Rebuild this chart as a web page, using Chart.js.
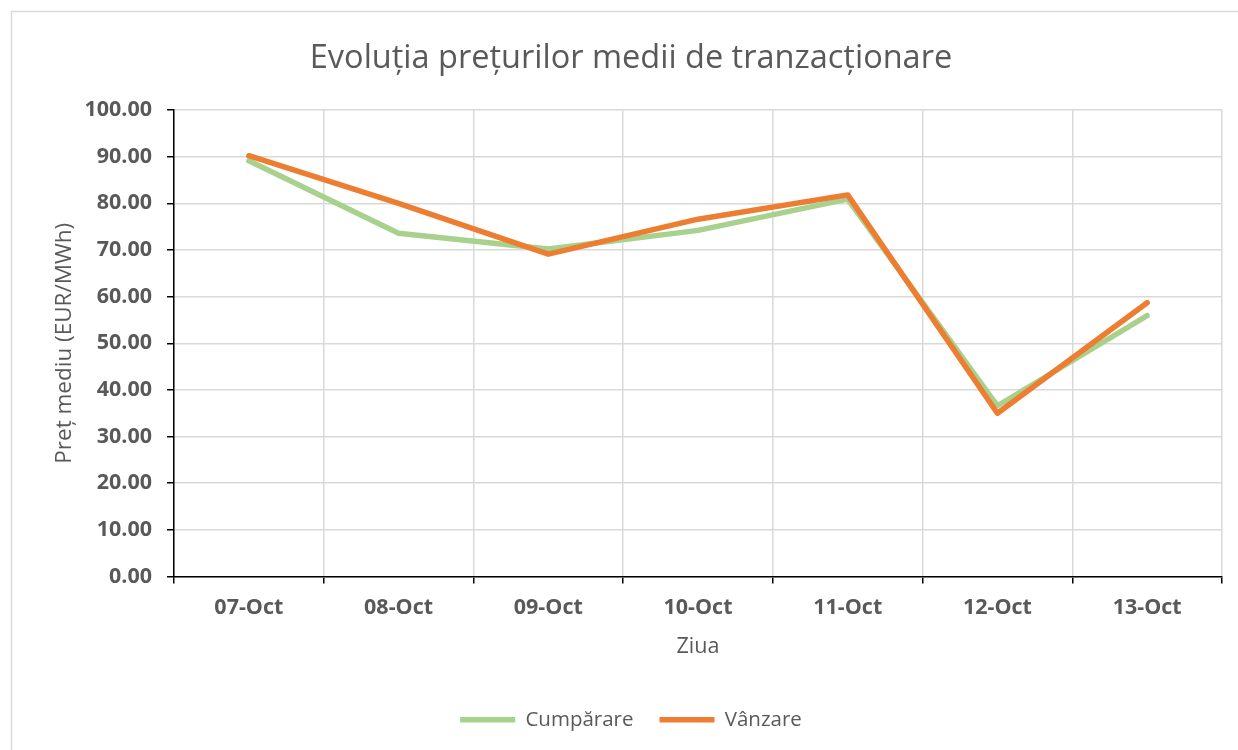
<!DOCTYPE html>
<html>
<head>
<meta charset="utf-8">
<title>Evoluția prețurilor medii de tranzacționare</title>
<script src="https://cdn.jsdelivr.net/npm/chart.js@4/dist/chart.umd.min.js"></script>
<style>
	html, body { margin: 0; padding: 0; background: #fff; }
	#wrap { position: relative; width: 1238px; height: 750px; }
</style>
</head>
<body>
<div id="wrap"><canvas id="line-chart" width="1238" height="750"></canvas></div>
<script>
var zile = ['07-Oct', '08-Oct', '09-Oct', '10-Oct', '11-Oct', '12-Oct', '13-Oct'];
var cumparare = [89.1, 73.6, 70.2, 74.2, 80.9, 36.6, 55.9];
var vanzare = [90.2, 80.0, 69.1, 76.6, 81.8, 35.0, 58.7];

var gri = '#595959';
var font = "'Open Sans', 'Noto Sans', sans-serif";

// thin grey frame around the whole chart, like the office chart border
// (the original chart is a bit wider than the window, so title and legend sit right of centre)
var chenar = {
	id: 'chenar',
	beforeDraw: function(chart)
	{
		var ctx = chart.ctx;
		ctx.save();
		ctx.fillStyle = '#fff';
		ctx.fillRect(0, 0, chart.width, chart.height);
		ctx.strokeStyle = '#D9D9D9';
		ctx.lineWidth = 1.5;
		ctx.strokeRect(11.5, 11.5, chart.width + 20, chart.height + 20);
		ctx.restore();
	},
	afterLayout: function(chart)
	{
		chart.legend.left += 20;
		chart.legend.right += 20;
		chart.titleBlock.left += 20;
		chart.titleBlock.right += 20;
	}
};

new Chart(document.getElementById('line-chart'), {
	type: 'line',
	plugins: [chenar],
	data: {
		labels: zile,
		datasets: [
			{
				label: 'Cumpărare'
			,	data: cumparare
			,	borderColor: '#A9D18E'
			,	backgroundColor: '#A9D18E'
			,	borderWidth: 5.5
			,	order: 1
			}
		,	{
				label: 'Vânzare'
			,	data: vanzare
			,	borderColor: '#ED7D31'
			,	backgroundColor: '#ED7D31'
			,	borderWidth: 5.5
			,	order: 0
			}
		]
	},
	options: {
		responsive: false,
		animation: false,
		events: [],
		layout: { padding: { left: 0, right: 16, top: 0, bottom: 10 } },
		elements: {
			point: { radius: 0 },
			line: { tension: 0, borderCapStyle: 'round', borderJoinStyle: 'round' }
		},
		plugins: {
			title: {
				display: true
			,	text: 'Evoluția prețurilor medii de tranzacționare'
			,	color: gri
			,	font: { family: font, size: 32.5, weight: 'normal' }
			,	padding: { top: 39, bottom: 32 }
			}
		,	legend: {
				position: 'bottom'
			,	labels: {
					usePointStyle: true
				,	pointStyle: 'line'
				,	pointStyleWidth: 55
				,	padding: 26
				,	color: gri
				,	font: { family: font, size: 20.5 }
				,	sort: function(a, b) { return a.datasetIndex - b.datasetIndex; }
				}
			}
		,	tooltip: { enabled: false }
		},
		scales: {
			x: {
				offset: true
			,	grid: { offset: true, color: '#D9D9D9', lineWidth: 1.5, tickColor: '#000', tickLength: 7 }
			,	border: { color: '#000', width: 1.5 }
			,	ticks: { color: gri, padding: 11, maxRotation: 0, font: { family: font, size: 21.5, weight: 'bold' } }
			,	title: {
					display: true
				,	text: 'Ziua'
				,	color: gri
				,	font: { family: font, size: 21.5, weight: 'normal' }
				,	padding: { top: 0, bottom: 24 }
				}
			,	afterFit: function(scale) { scale.height = 107; }
			}
		,	y: {
				min: 0
			,	max: 100
			,	ticks: {
					stepSize: 10
				,	color: gri
				,	padding: 15
				,	font: { family: font, size: 21.5, weight: 'bold' }
				,	callback: function(v) { return v.toFixed(2); }
				}
			,	grid: { color: '#D9D9D9', lineWidth: 1.5, tickColor: '#000', tickLength: 7 }
			,	border: { color: '#000', width: 1.5 }
			,	title: {
					display: true
				,	text: 'Preț mediu (EUR/MWh)'
				,	color: gri
				,	font: { family: font, size: 22.5, weight: 'normal' }
				,	padding: { top: 51, bottom: 0 }
				}
			,	afterFit: function(scale) { scale.width = 174; }
			}
		}
	}
});
</script>
</body>
</html>
